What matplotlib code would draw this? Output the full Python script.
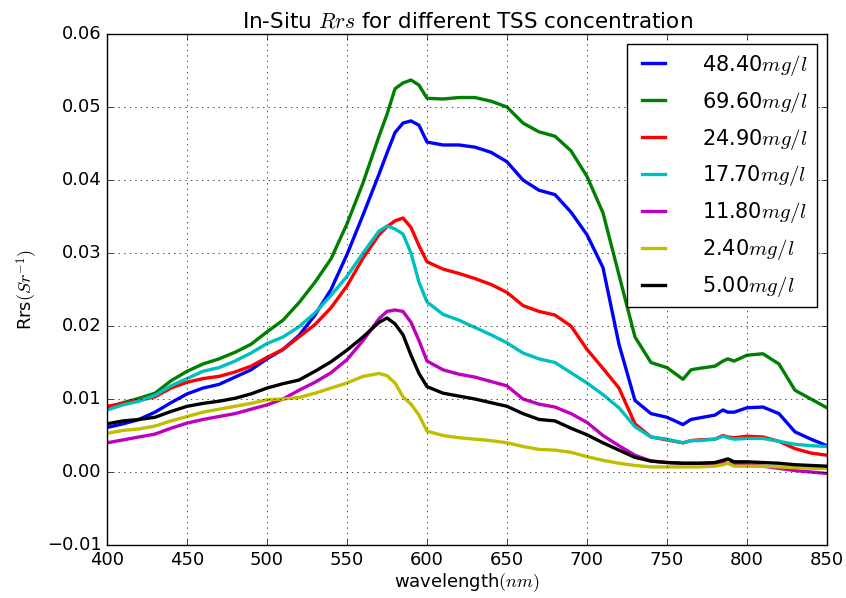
import numpy as np
import matplotlib
matplotlib.use('Agg')
import matplotlib.pyplot as plt

plt.style.use('classic')

# wavelength grid (nm)
wl = [400, 410, 420, 430, 440, 450, 460, 470, 480, 490, 500, 510, 520, 530, 540,
      550, 560, 570, 575, 580, 585, 590, 595, 600, 610, 620, 630, 640, 650, 660,
      670, 680, 690, 700, 710, 720, 730, 740, 750, 760, 765, 770, 780, 785, 788,
      792, 800, 810, 820, 830, 840, 850]

# Rrs per TSS concentration
rrs_48_4 = [0.0061, 0.0066, 0.0072, 0.0082, 0.0095, 0.0107, 0.0115, 0.0120, 0.0130, 0.0140,
            0.0155, 0.0168, 0.0187, 0.0215, 0.0250, 0.0298, 0.0352, 0.0408, 0.0437, 0.0465,
            0.0478, 0.0481, 0.0475, 0.0452, 0.0448, 0.0448, 0.0445, 0.0438, 0.0425, 0.0400,
            0.0386, 0.0380, 0.0356, 0.0325, 0.0280, 0.0175, 0.0098, 0.0080, 0.0075, 0.0065,
            0.0072, 0.0074, 0.0078, 0.0085, 0.0082, 0.0082, 0.0088, 0.0089, 0.0080, 0.0055,
            0.0045, 0.0036]
rrs_69_6 = [0.0088, 0.0095, 0.0101, 0.0108, 0.0125, 0.0138, 0.0148, 0.0155, 0.0164, 0.0175,
            0.0192, 0.0208, 0.0232, 0.0260, 0.0292, 0.0340, 0.0396, 0.0460, 0.0490, 0.0525,
            0.0533, 0.0537, 0.0530, 0.0512, 0.0511, 0.0513, 0.0513, 0.0508, 0.0500, 0.0478,
            0.0466, 0.0460, 0.0440, 0.0405, 0.0355, 0.0270, 0.0185, 0.0150, 0.0143, 0.0127,
            0.0140, 0.0142, 0.0145, 0.0152, 0.0155, 0.0152, 0.0160, 0.0162, 0.0148, 0.0112,
            0.0100, 0.0088]
rrs_24_9 = [0.0090, 0.0094, 0.0098, 0.0103, 0.0115, 0.0123, 0.0128, 0.0131, 0.0137, 0.0145,
            0.0157, 0.0168, 0.0185, 0.0202, 0.0225, 0.0255, 0.0293, 0.0325, 0.0336, 0.0344,
            0.0348, 0.0335, 0.0310, 0.0288, 0.0278, 0.0272, 0.0265, 0.0257, 0.0246, 0.0228,
            0.0220, 0.0215, 0.0200, 0.0168, 0.0142, 0.0115, 0.0066, 0.0048, 0.0044, 0.0040,
            0.0043, 0.0044, 0.0045, 0.0050, 0.0048, 0.0047, 0.0049, 0.0048, 0.0042, 0.0032,
            0.0026, 0.0023]
rrs_17_7 = [0.0085, 0.0092, 0.0097, 0.0105, 0.0118, 0.0128, 0.0138, 0.0143, 0.0152, 0.0163,
            0.0176, 0.0185, 0.0199, 0.0218, 0.0242, 0.0268, 0.0300, 0.0330, 0.0337, 0.0333,
            0.0326, 0.0300, 0.0260, 0.0233, 0.0216, 0.0208, 0.0198, 0.0188, 0.0177, 0.0163,
            0.0155, 0.0150, 0.0136, 0.0122, 0.0106, 0.0088, 0.0062, 0.0048, 0.0045, 0.0040,
            0.0043, 0.0043, 0.0045, 0.0049, 0.0047, 0.0045, 0.0046, 0.0046, 0.0042, 0.0038,
            0.0036, 0.0035]
rrs_11_8 = [0.0040, 0.0044, 0.0048, 0.0052, 0.0060, 0.0067, 0.0072, 0.0076, 0.0080, 0.0086,
            0.0092, 0.0100, 0.0112, 0.0123, 0.0136, 0.0154, 0.0180, 0.0210, 0.0220, 0.0222,
            0.0220, 0.0205, 0.0180, 0.0152, 0.0140, 0.0134, 0.0130, 0.0124, 0.0118, 0.0100,
            0.0093, 0.0089, 0.0080, 0.0068, 0.0050, 0.0036, 0.0023, 0.0015, 0.0013, 0.0012,
            0.0012, 0.0012, 0.0012, 0.0013, 0.0012, 0.0011, 0.0010, 0.0008, 0.0005, 0.0002,
            0.0000, -0.0002]
rrs_2_4 = [0.0053, 0.0057, 0.0059, 0.0063, 0.0070, 0.0076, 0.0082, 0.0086, 0.0090, 0.0094,
           0.0099, 0.0100, 0.0102, 0.0108, 0.0115, 0.0122, 0.0131, 0.0135, 0.0132, 0.0122,
           0.0103, 0.0093, 0.0078, 0.0056, 0.0050, 0.0047, 0.0045, 0.0043, 0.0040, 0.0035,
           0.0031, 0.0030, 0.0027, 0.0021, 0.0016, 0.0012, 0.0009, 0.0007, 0.0007, 0.0007,
           0.0007, 0.0007, 0.0008, 0.0010, 0.0012, 0.0008, 0.0008, 0.0008, 0.0007, 0.0006,
           0.0005, 0.0005]
rrs_5_0 = [0.0066, 0.0070, 0.0072, 0.0075, 0.0083, 0.0090, 0.0094, 0.0097, 0.0101, 0.0107,
           0.0115, 0.0121, 0.0126, 0.0138, 0.0151, 0.0167, 0.0185, 0.0205, 0.0211, 0.0203,
           0.0188, 0.0160, 0.0135, 0.0117, 0.0108, 0.0104, 0.0100, 0.0095, 0.0090, 0.0080,
           0.0072, 0.0070, 0.0060, 0.0051, 0.0040, 0.0030, 0.0020, 0.0015, 0.0013, 0.0012,
           0.0012, 0.0012, 0.0013, 0.0016, 0.0018, 0.0014, 0.0014, 0.0013, 0.0012, 0.0010,
           0.0009, 0.0008]

series = [rrs_48_4, rrs_69_6, rrs_24_9, rrs_17_7, rrs_11_8, rrs_2_4, rrs_5_0]
labels = ['48.40$mg/l$', '69.60$mg/l$', '24.90$mg/l$', '17.70$mg/l$',
          '11.80$mg/l$', '2.40$mg/l$', '5.00$mg/l$']
colors = ['b', 'g', 'r', 'c', 'm', 'y', 'k']

fig = plt.figure(figsize=(8.46, 5.98), dpi=100, facecolor='white')
ax = fig.add_axes([0.1265, 0.0886, 0.851, 0.8545])

for vals, lab, col in zip(series, labels, colors):
    ax.plot(wl, vals, color=col, linewidth=2.4, label=lab)

ax.set_xlim(400, 850)
ax.set_ylim(-0.01, 0.06)
ax.set_xticks(np.arange(400, 851, 50))
ax.set_yticks(np.arange(-0.01, 0.061, 0.01))
ax.grid(True)
ax.tick_params(labelsize=13)

ax.set_title('In-Situ $Rrs$ for different TSS concentration', fontsize=15.5)
ax.set_xlabel('wavelength$(nm)$', fontsize=13, labelpad=2)
ax.set_ylabel('Rrs$(Sr^{-1})$', fontsize=13)

ax.legend(loc='upper right', fontsize=15, handlelength=1.7, handletextpad=1.5,
          labelspacing=0.57, borderaxespad=0.5)

plt.savefig('out.png', dpi=100, facecolor='white')
